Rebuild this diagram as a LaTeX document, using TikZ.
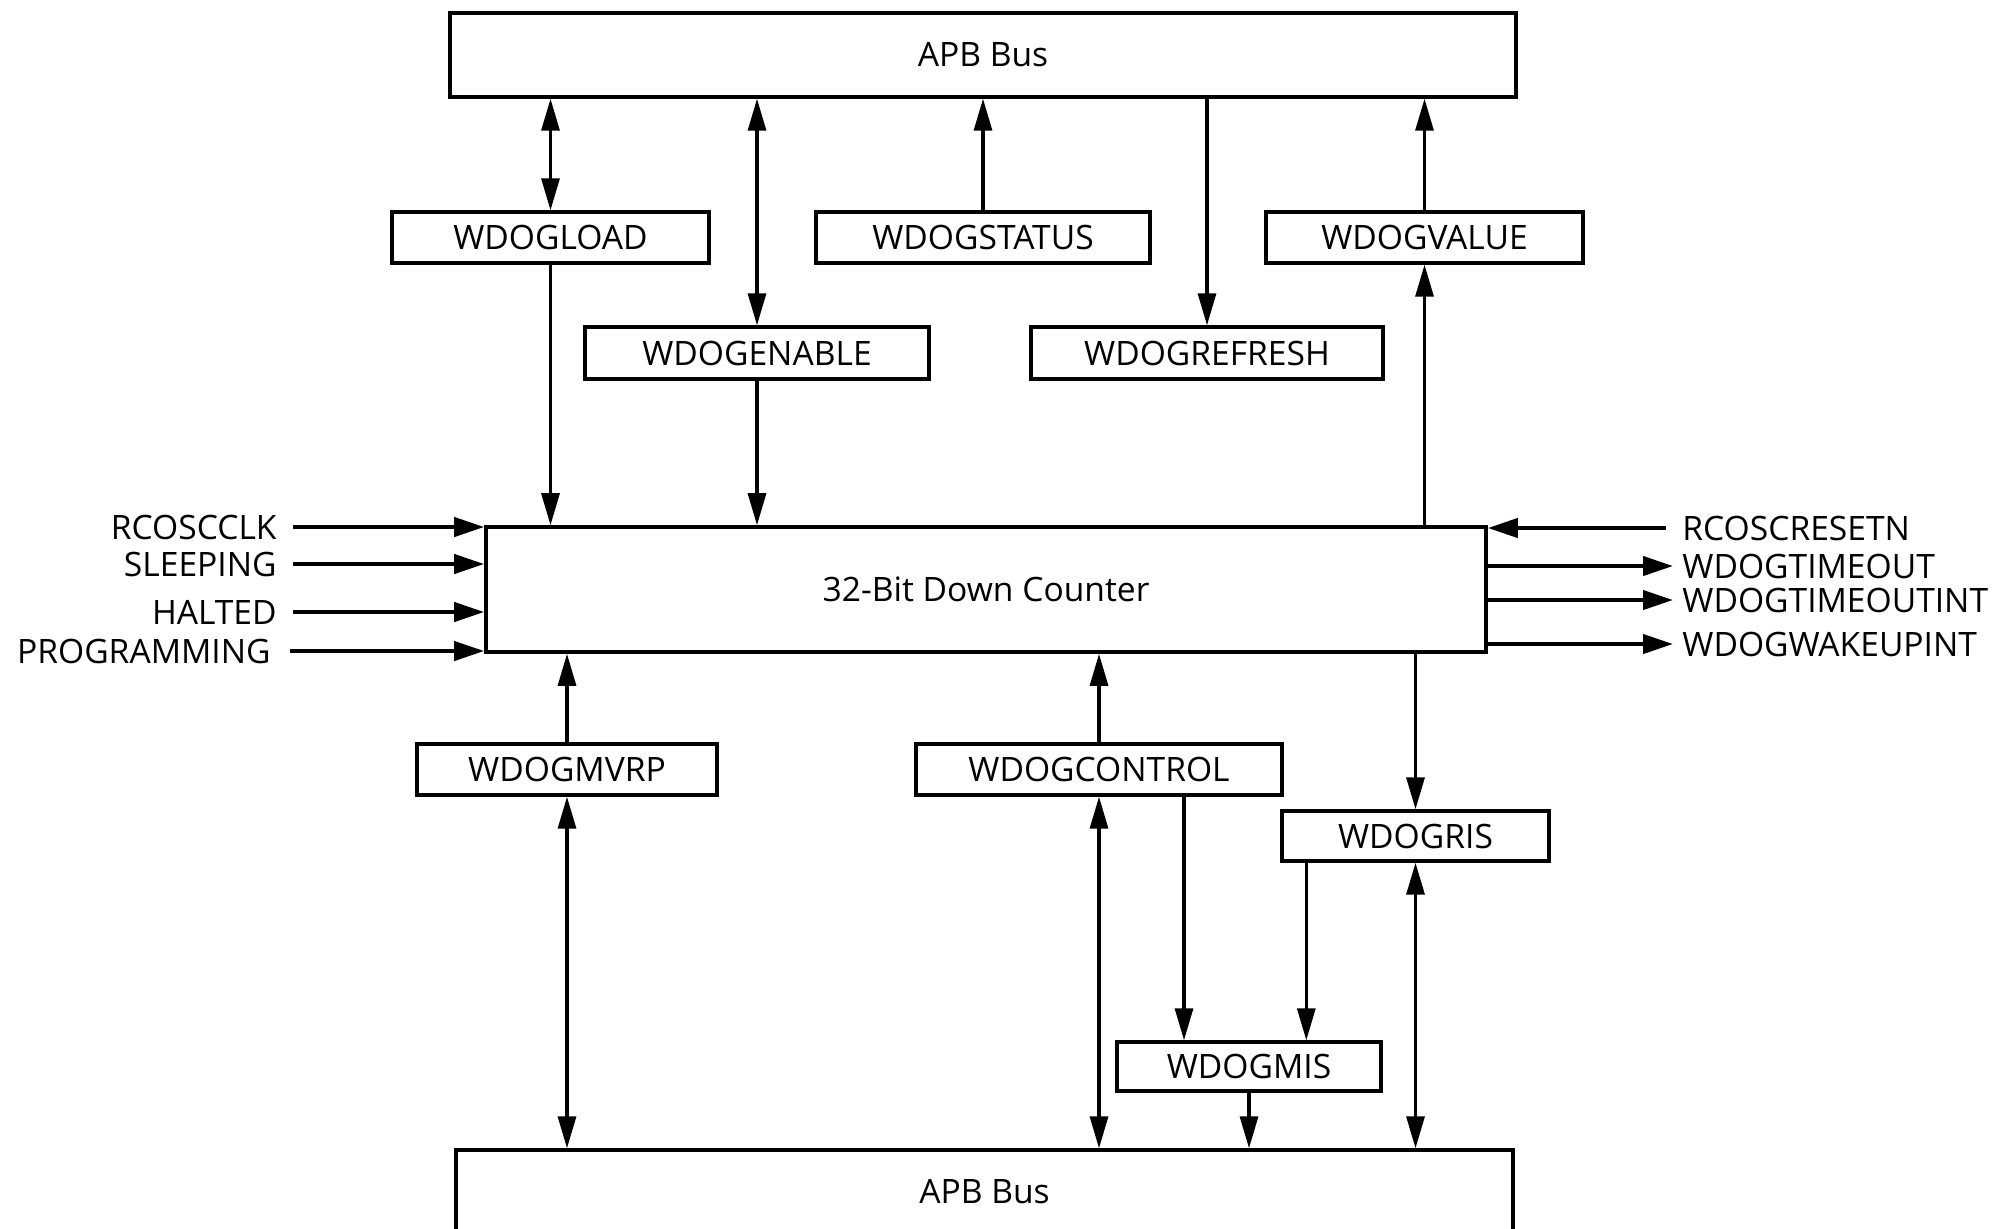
\documentclass[tikz,border=0pt]{standalone}
\usepackage{fontspec}
\setmainfont{Open Sans}
\usetikzlibrary{arrows.meta,calc}
\begin{document}
\begin{tikzpicture}[x=0.5pt,y=-0.5pt,
  txt/.style={font=\fontsize{16.8}{20}\selectfont},
  box/.style={draw,line width=1.7pt,inner sep=0pt,txt},
  lab/.style={inner sep=0pt,txt},
  tip/.tip={Triangle[length=16pt,width=9pt]},
  conn/.style={line width=1.6pt,-tip},
  bconn/.style={line width=1.6pt,tip-tip},
  sig/.style={line width=2.1pt,-{Triangle[length=15pt,width=9.5pt]}}]
\useasboundingbox (0,0) rectangle (2000,1228);

% boxes
\node[box,minimum width=533pt,minimum height=42pt] (apbT) at (983,55) {APB Bus};
\node[box,minimum width=158.5pt,minimum height=25.5pt] (load) at (550.5,237.5) {WDOGLOAD};
\node[box,minimum width=172pt,minimum height=26pt] (enable) at (757,353) {WDOGENABLE};
\node[box,minimum width=167pt,minimum height=25.5pt] (status) at (983,237.5) {WDOGSTATUS};
\node[box,minimum width=176pt,minimum height=26pt] (refresh) at (1207,353) {WDOGREFRESH};
\node[box,minimum width=158.5pt,minimum height=25.5pt] (value) at (1424.5,237.5) {WDOGVALUE};
\node[box,line width=1.8pt,minimum width=500pt,minimum height=62.5pt] (counter) at (986,589.5) {32-Bit Down Counter};
\node[box,minimum width=150pt,minimum height=25.5pt] (mvrp) at (567,769.5) {WDOGMVRP};
\node[box,minimum width=183pt,minimum height=25.5pt] (control) at (1099,769.5) {WDOGCONTROL};
\node[box,minimum width=133.5pt,minimum height=25pt] (ris) at (1415.5,836) {WDOGRIS};
\node[box,minimum width=132pt,minimum height=24.5pt] (mis) at (1249,1066.5) {WDOGMIS};
\node[box,minimum width=528.5pt,minimum height=42pt] (apbB) at (984.5,1192) {APB Bus};

% top connectors
\draw[bconn] (apbT.south -| load.north) -- (load.north);
\draw[conn] (load.south) -- (counter.north -| load.south);
\draw[bconn] (apbT.south -| enable.north) -- (enable.north);
\draw[conn] (enable.south) -- (counter.north -| enable.south);
\draw[conn] (status.north) -- (apbT.south -| status.north);
\draw[conn] (apbT.south -| refresh.north) -- (refresh.north);
\draw[conn] (value.north) -- (apbT.south -| value.north);
\draw[conn] (counter.north -| value.south) -- (value.south);

% bottom connectors
\draw[conn] (mvrp.north) -- (counter.south -| mvrp.north);
\draw[bconn] (mvrp.south) -- (apbB.north -| mvrp.south);
\draw[conn] (control.north) -- (counter.south -| control.north);
\draw[bconn] (control.south) -- (apbB.north -| control.south);
\coordinate (cm) at ($(control.south)+(85,0)$);
\draw[conn] (cm) -- (cm |- mis.north);
\draw[conn] (counter.south -| ris.north) -- (ris.north);
\coordinate (rm) at ($(ris.south west)+(26,0)$);
\draw[conn] (rm) -- (rm |- mis.north);
\draw[bconn] (ris.south) -- (apbB.north -| ris.south);
\draw[conn] (mis.south) -- (apbB.north -| mis.south);

% left inputs
\node[lab,anchor=east] (rcl) at (277,527) {RCOSCCLK};
\node[lab,anchor=east] (slp) at (277,564) {SLEEPING};
\node[lab,anchor=east] (hlt) at (277,612) {HALTED};
\node[lab,anchor=east] (prg) at (271,651) {PROGRAMMING};
\draw[sig] ([xshift=8pt]rcl.east) -- (rcl.east -| counter.west);
\draw[sig] ([xshift=8pt]slp.east) -- (slp.east -| counter.west);
\draw[sig] ([xshift=8pt]hlt.east) -- (hlt.east -| counter.west);
\draw[sig] ([xshift=9.5pt]prg.east) -- (prg.east -| counter.west);

% right side
\node[lab,anchor=west] (rcr) at (1682,528) {RCOSCRESETN};
\node[lab,anchor=west] (wto) at (1682,566) {WDOGTIMEOUT};
\node[lab,anchor=west] (wti) at (1682,600) {WDOGTIMEOUTINT};
\node[lab,anchor=west] (wwk) at (1682,644) {WDOGWAKEUPINT};
\draw[sig] ([xshift=-8pt]rcr.west) -- (rcr.west -| counter.east);
\draw[sig] (counter.east |- wto.west) -- ([xshift=-4.5pt]wto.west);
\draw[sig] (counter.east |- wti.west) -- ([xshift=-4.5pt]wti.west);
\draw[sig] (counter.east |- wwk.west) -- ([xshift=-4.5pt]wwk.west);
\end{tikzpicture}
\end{document}
